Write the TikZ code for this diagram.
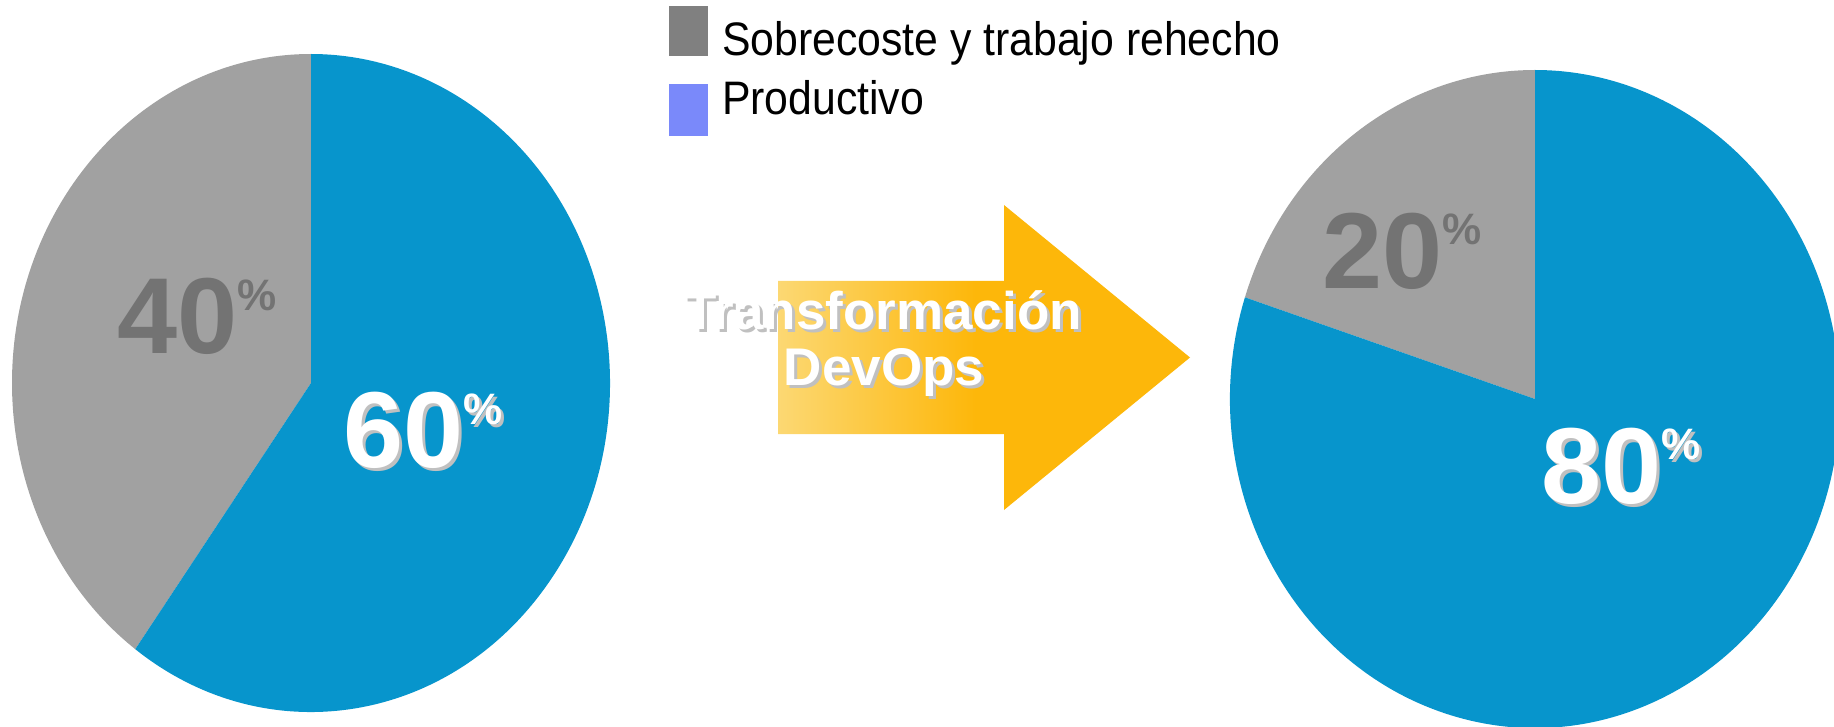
\documentclass[tikz,border=0pt]{standalone}
\usepackage{fontspec}
\setmainfont{Liberation Sans}
\usetikzlibrary{calc}
\definecolor{pieblue}{RGB}{7,149,204}
\definecolor{piegray}{RGB}{161,161,161}
\definecolor{lblgray}{RGB}{115,115,115}
\definecolor{shadowgray}{RGB}{192,192,192}
\definecolor{legblue}{RGB}{122,137,250}
\definecolor{leggray}{RGB}{128,128,128}
\definecolor{arrowor}{RGB}{253,183,10}
\definecolor{arrowlt}{RGB}{252,216,115}
\pgfdeclarehorizontalshading{arrshade}{100bp}{color(0bp)=(arrowlt); color(25bp)=(arrowlt); color(49bp)=(arrowor); color(100bp)=(arrowor)}
\begin{document}
\begin{tikzpicture}[x=1pt,y=1pt,
  pct/.style={font=\fontsize{108}{108}\selectfont\bfseries, inner sep=0pt, outer sep=0pt, anchor=base west},
  legsq/.style={minimum width=39pt, minimum height=50pt, inner sep=0pt, outer sep=0pt, draw=none},
  legtxt/.style={font=\fontsize{47}{47}\selectfont, inner sep=0pt, outer sep=0pt, anchor=base west, text=black},
  arrtxt/.style={font=\fontsize{53}{53}\selectfont\bfseries, inner sep=0pt, outer sep=0pt, anchor=base}]
\useasboundingbox (0,0) rectangle (1834,-727);
\clip (0,0) rectangle (1834,-727);
% left pie
\coordinate (cL) at (311,-383);
\fill[piegray] (cL) -- ++(90:299pt and 329pt) arc[start angle=90, end angle=234, x radius=299pt, y radius=329pt] -- cycle;
\fill[pieblue] (cL) -- ++(234:299pt and 329pt) arc[start angle=234, end angle=450, x radius=299pt, y radius=329pt] -- cycle;
% right pie
\coordinate (cR) at (1535,-399);
\fill[piegray] (cR) -- ++(90:305pt and 329pt) arc[start angle=90, end angle=162, x radius=305pt, y radius=329pt] -- cycle;
\fill[pieblue] (cR) -- ++(162:305pt and 329pt) arc[start angle=162, end angle=450, x radius=305pt, y radius=329pt] -- cycle;
% percentage labels
\node[pct, text=lblgray] (p40) at (117,-353) {40\raisebox{43pt}{\fontsize{44}{44}\selectfont\%}};
\node[pct, text=shadowgray] (p60s) at (346,-470) {60\raisebox{43pt}{\fontsize{44}{44}\selectfont\%}};
\node[pct, text=white] (p60) at (343,-467) {60\raisebox{43pt}{\fontsize{44}{44}\selectfont\%}};
\node[pct, text=lblgray] (p20) at (1322,-289) {20\raisebox{44pt}{\fontsize{44}{44}\selectfont\%}};
\node[pct, text=shadowgray] (p80s) at (1544,-506) {80\raisebox{44pt}{\fontsize{44}{44}\selectfont\%}};
\node[pct, text=white] (p80) at (1541,-503) {80\raisebox{44pt}{\fontsize{44}{44}\selectfont\%}};
% legend
\node[legsq, fill=leggray] (sq1) at (688.5,-31) {};
\node[legsq, fill=legblue, minimum height=52pt] (sq2) at (688.5,-110) {};
\node[legtxt] (t1) at (722,-56) {\scalebox{0.91}[1]{Sobrecoste y trabajo rehecho}};
\node[legtxt] (t2) at (722,-115) {\scalebox{0.91}[1]{Productivo}};
% arrow
\shade[shading=arrshade] (778,-281) -- (1004,-281) -- (1004,-205) -- (1190,-357.5) -- (1004,-510) -- (1004,-434) -- (778,-434) -- cycle;
\node[arrtxt, text=shadowgray] (a1s) at (886,-333) {Transformación};
\node[arrtxt, text=white] (a1) at (883,-330) {Transformación};
\node[arrtxt, text=shadowgray] (a2s) at (887,-388) {DevOps};
\node[arrtxt, text=white] (a2) at (884,-385) {DevOps};
\end{tikzpicture}
\end{document}
